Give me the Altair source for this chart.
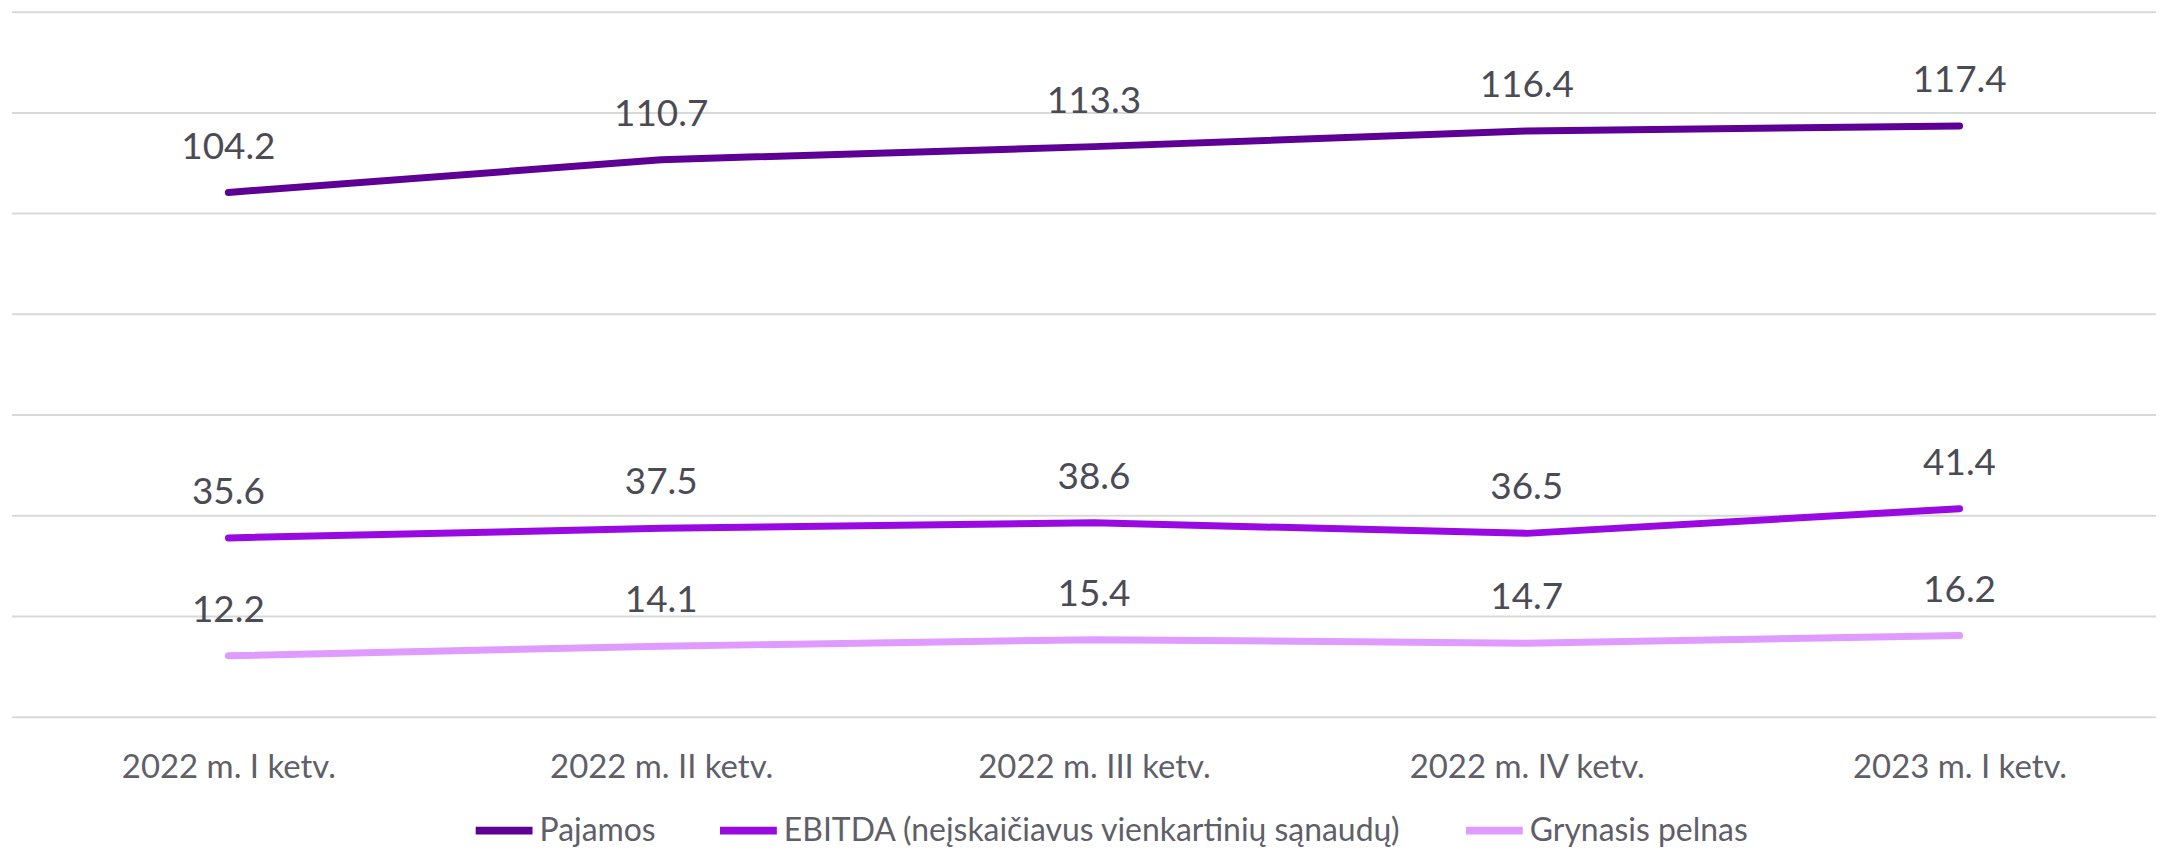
import altair as alt
import pandas as pd

quarters = ["2022 m. I ketv.", "2022 m. II ketv.", "2022 m. III ketv.", "2022 m. IV ketv.", "2023 m. I ketv."]
series_names = ["Pajamos", "EBITDA (neįskaičiavus vienkartinių sąnaudų)", "Grynasis pelnas"]
pajamos = [104.2, 110.7, 113.3, 116.4, 117.4]
ebitda = [35.6, 37.5, 38.6, 36.5, 41.4]
grynasis = [12.2, 14.1, 15.4, 14.7, 16.2]
colors = ["#5e0096", "#990ae3", "#df9bff"]
y_ticks = [0, 20, 40, 60, 80, 100, 120, 140]

rows = []
for name, vals in zip(series_names, [pajamos, ebitda, grynasis]):
    for q, v in zip(quarters, vals):
        rows.append({"quarter": q, "series": name, "value": v, "label": f"{v:.1f}"})
df = pd.DataFrame(rows)
grid_df = pd.DataFrame({"tick": y_ticks})

FONT = "Lato"
W, H = 2150, 707

x = alt.X("quarter:N", sort=quarters,
          scale=alt.Scale(type="point", range=[217, 1953], padding=0),
          axis=alt.Axis(title=None, domain=False, ticks=False, grid=False,
                        labelFontSize=33, labelColor="#5f5f6a", labelFont=FONT,
                        labelPadding=34, labelAngle=0, labelLimit=0))
yscale = alt.Scale(domain=[0, 140], nice=False)
y = alt.Y("value:Q", scale=yscale,
          axis=alt.Axis(title=None, domain=False, ticks=False, labels=False, grid=False))

color = alt.Color("series:N", sort=series_names,
                  scale=alt.Scale(domain=series_names, range=colors),
                  legend=alt.Legend(title=None, orient="none", direction="horizontal",
                                    legendX=461, legendY=788,
                                    symbolType="stroke", symbolSize=3249,
                                    symbolStrokeWidth=8, labelFontSize=32,
                                    labelFont=FONT, labelColor="#5f5f6a",
                                    labelOffset=3, columnPadding=48, labelLimit=0))

grid = alt.Chart(grid_df).mark_rule(color="#d9d9d9", strokeWidth=2).encode(
    y=alt.Y("tick:Q", scale=yscale, axis=None),
    x=alt.value(0), x2=alt.value(W))

lines = alt.Chart(df).mark_line(strokeWidth=7, strokeCap="round").encode(
    x=x, y=y, color=color)

labels = alt.Chart(df).mark_text(fontSize=37, font=FONT, color="#4b4b55",
                                 baseline="middle", align="center", dy=-45).encode(
    x=alt.X("quarter:N", sort=quarters), y="value:Q", text="label:N")

chart = alt.layer(grid, lines, labels).properties(
    width=W, height=H,
    autosize=alt.AutoSizeParams(type="none"),
    padding={"left": 4, "top": 3, "right": 0, "bottom": 130},
).configure(background="white").configure_view(stroke=None)

chart.save("out.html", embed_options={"renderer": "svg", "actions": False})
